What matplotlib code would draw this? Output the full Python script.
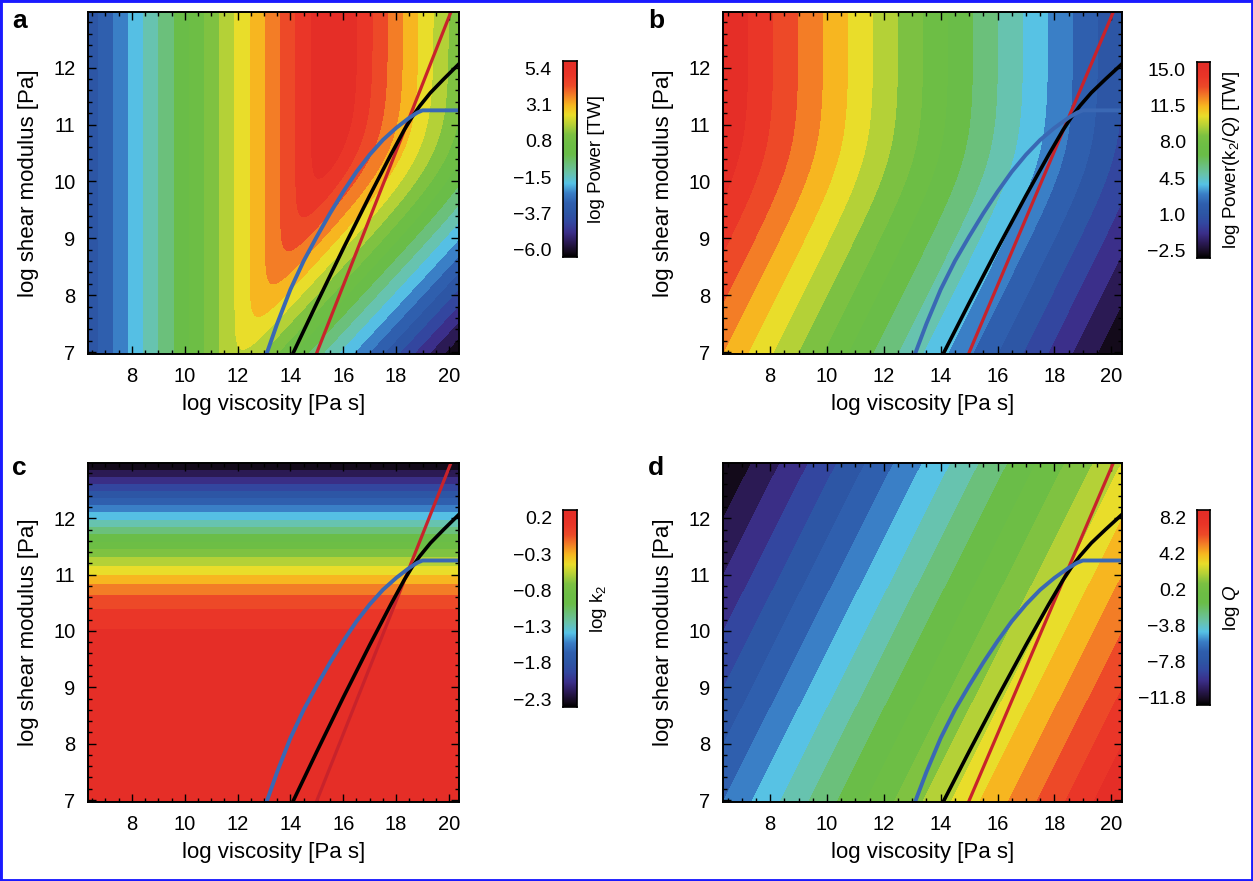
import numpy as np
import matplotlib
matplotlib.use("Agg")
import matplotlib.pyplot as plt
from matplotlib.colors import LinearSegmentedColormap
from matplotlib.patches import Rectangle
from matplotlib.ticker import MultipleLocator

plt.rcParams['font.family'] = ['Liberation Sans', 'DejaVu Sans']
plt.rcParams['mathtext.fontset'] = 'custom'
plt.rcParams['mathtext.rm'] = 'Liberation Sans'
plt.rcParams['mathtext.it'] = 'Liberation Sans:italic'

# axis ranges: log viscosity [Pa s], log shear modulus [Pa]
eta_range = [6.34, 20.38]
mu_range = [6.965, 12.98]

# Maxwell body constants
log_omega = -5.15      # forcing frequency
log_mu_crit = 10.5     # 2 rho g R / 19
log_power0 = 5.52      # power scale [TW]
n_levels = 20

# rheology paths drawn on every panel
red_eta = [14.95, 20.15]
red_mu = [6.93, 13.07]
black_eta = [14.05, 15.0, 16.0, 17.0, 17.8, 18.3, 18.6, 18.9, 19.3, 19.8, 20.45]
black_mu = [6.93, 7.86, 8.82, 9.75, 10.47, 10.9, 11.13, 11.33, 11.56, 11.8, 12.1]
blue_eta = [13.07, 13.5, 14.0, 14.5, 15.0, 15.5, 16.0, 16.5, 17.0, 17.5, 18.0,
            18.5, 18.8, 19.0, 20.5]
blue_mu = [6.93, 7.5, 8.1, 8.6, 9.03, 9.44, 9.82, 10.17, 10.47, 10.73, 10.94,
           11.12, 11.21, 11.25, 11.25]

# colour bar labels
cb_labels_a = ['\u22126.0', '\u22123.7', '\u22121.5', '0.8', '3.1', '5.4']
cb_labels_b = ['\u22122.5', '1.0', '4.5', '8.0', '11.5', '15.0']
cb_labels_c = ['\u22122.3', '\u22121.8', '\u22121.3', '\u22120.8', '\u22120.3', '0.2']
cb_labels_d = ['\u221211.8', '\u22127.8', '\u22123.8', '0.2', '4.2', '8.2']
cb_titles = ['log Power [TW]', r'log Power(k$_2$/$Q$) [TW]', r'log k$_2$', r'log $Q$']
panel_letters = ['a', 'b', 'c', 'd']

cmap_pos = [0.0, 0.025, 0.075, 0.125, 0.175, 0.225, 0.275, 0.325, 0.375, 0.425,
            0.475, 0.525, 0.575, 0.625, 0.675, 0.725, 0.775, 0.825, 0.875, 0.925,
            0.975, 1.0]
cmap_col = ['#000000', '#140b1c', '#2b1a55', '#3b2f8a', '#3347a0', '#2d56a5', '#2f5fae',
            '#3a7ec6', '#56c2e6', '#68c3ad', '#6bc07a', '#6abd48', '#6dbe45', '#7cc142',
            '#b5d137', '#e9dd2a', '#f7b820', '#f38026', '#ed4a28', '#ea3628', '#e52e27',
            '#e52e27']
cmap = LinearSegmentedColormap.from_list('idl_rainbow', list(zip(cmap_pos, cmap_col)))

# fields
eta = np.linspace(eta_range[0], eta_range[1], 500)
mu = np.linspace(mu_range[0], mu_range[1], 400)
E, M = np.meshgrid(eta, mu)
omega = 10.0 ** log_omega
J = 1 / 10.0 ** M - 1j / (omega * 10.0 ** E)
mu_c = 1 / J
k2_complex = 1.5 / (1 + mu_c / 10.0 ** log_mu_crit)
k2_elastic = 1.5 / (1 + 10.0 ** (M - log_mu_crit))
log_q = log_omega + E - M
field_a = log_power0 + np.log10(-k2_complex.imag)
field_c = np.log10(k2_elastic)
field_b = log_power0 + field_c - log_q
field_d = log_q
fields = [field_a, field_b, field_c, field_d]
cb_labels = [cb_labels_a, cb_labels_b, cb_labels_c, cb_labels_d]

W, H = 1253, 881
fig = plt.figure(figsize=(W / 100, H / 100), dpi=100)

def rect(l, t, r, b):
    return [l / W, 1 - b / H, (r - l) / W, (b - t) / H]

ax_boxes = [rect(88, 12, 459, 354), rect(723, 12, 1122, 354),
            rect(88, 463, 459, 802), rect(723, 463, 1122, 802)]
cb_boxes = [rect(563, 61, 577, 257), rect(1197, 62, 1210, 258),
            rect(563, 510, 577, 707), rect(1197, 510, 1210, 705)]
letter_xy = [(12, 28), (648, 28), (12, 475), (648, 475)]

for i in range(4):
    ax = fig.add_axes(ax_boxes[i])
    f = fields[i]
    levels = np.linspace(f.min(), f.max(), n_levels + 1)
    ax.contourf(E, M, f, levels=levels, cmap=cmap)
    ax.plot(red_eta, red_mu, color='#c8232b', lw=2.3, solid_capstyle='butt')
    ax.plot(black_eta, black_mu, color='black', lw=2.6)
    ax.plot(blue_eta, blue_mu, color='#3a68b4', lw=2.8, solid_joinstyle='round')
    ax.set_xlim(eta_range)
    ax.set_ylim(mu_range)
    ax.set_xticks([8, 10, 12, 14, 16, 18, 20])
    ax.set_yticks([7, 8, 9, 10, 11, 12])
    ax.xaxis.set_minor_locator(MultipleLocator(0.5))
    ax.yaxis.set_minor_locator(MultipleLocator(0.2))
    ax.tick_params(which='both', direction='in', top=True, right=True, width=1.0,
                   labelsize=14.5, pad=9)
    ax.tick_params(which='major', length=6)
    ax.tick_params(which='minor', length=3)
    for s in ax.spines.values():
        s.set_linewidth(1.4)
    ax.set_xlabel('log viscosity [Pa s]', fontsize=16, labelpad=6)
    ax.set_ylabel('log shear modulus [Pa]', fontsize=16, labelpad=10)
    fig.text(letter_xy[i][0] / W, 1 - letter_xy[i][1] / H, panel_letters[i],
             fontsize=19, fontweight='bold', ha='left', va='baseline')

    cax = fig.add_axes(cb_boxes[i])
    grad = np.linspace(0, 1, 256)[:, None]
    cax.imshow(grad, aspect='auto', cmap=cmap, origin='lower', extent=[0, 1, 0, 1])
    cax.set_xticks([])
    cax.set_yticks(np.linspace(0.04, 0.96, 6))
    cax.set_yticklabels(cb_labels[i])
    cax.tick_params(axis='y', length=0, labelsize=14, pad=8)
    cax.set_ylabel(cb_titles[i], fontsize=13.5, labelpad=8)
    cax.yaxis.set_label_position('right')
    for s in cax.spines.values():
        s.set_linewidth(1.2)

fig.patches.append(Rectangle((0, 0), 1, 1, transform=fig.transFigure, fill=False,
                             edgecolor='#1a1aff', lw=3.5))

fig.savefig('out.png', dpi=100)
